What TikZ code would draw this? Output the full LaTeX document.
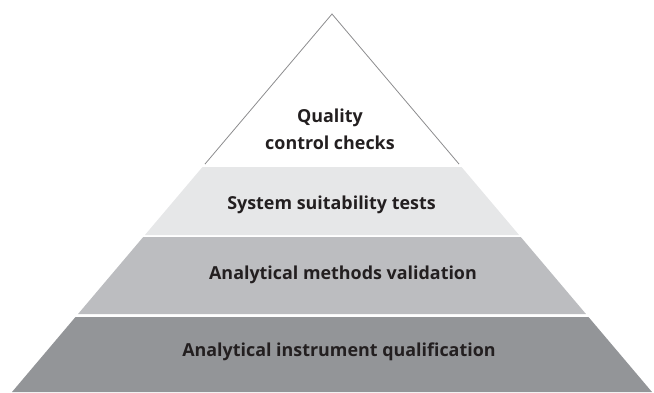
\documentclass[tikz,border=0pt]{standalone}
\usepackage{fontspec}
\setmainfont{Open Sans}
\usetikzlibrary{calc}

\definecolor{tierlight}{HTML}{E6E7E8}
\definecolor{tiermid}{HTML}{BCBDC0}
\definecolor{tierdark}{HTML}{939598}
\definecolor{outline}{HTML}{8C8C8E}
\definecolor{labeltext}{HTML}{231F20}

\tikzstyle{tierlabel} = [inner sep=0pt, anchor=base, align=center,
                         text=labeltext,
                         font=\bfseries\fontsize{17.9}{26.5}\selectfont]
\tikzstyle{tipline}   = [draw=outline, line width=0.8pt]

\begin{document}
\begin{tikzpicture}[x=1pt, y=-1pt]
\useasboundingbox (0,0) rectangle (654,392);

\coordinate (apex) at (332,14);
\coordinate (bl)   at (12,392);
\coordinate (br)   at (652,392);

% open tip of the pyramid
\draw [tipline] ($(apex)!0.397!(bl)$) -- (apex) -- ($(apex)!0.397!(br)$);

% shaded tiers, top to bottom
\foreach \a/\b/\col in {0.405/0.585/tierlight,
                        0.590/0.794/tiermid,
                        0.802/1.000/tierdark}
  \fill [\col] ($(apex)!\a!(bl)$) -- ($(apex)!\b!(bl)$)
            -- ($(apex)!\b!(br)$) -- ($(apex)!\a!(br)$) -- cycle;

\node (qc)  [tierlabel] at (330,149) {Quality\\control checks};
\node (sst) [tierlabel] at (331.5,209.5) {System suitability tests};
\node (amv) [tierlabel] at (343,279) {Analytical methods validation};
\node (aiq) [tierlabel] at (339,356.5) {Analytical instrument qualification};
\end{tikzpicture}
\end{document}
